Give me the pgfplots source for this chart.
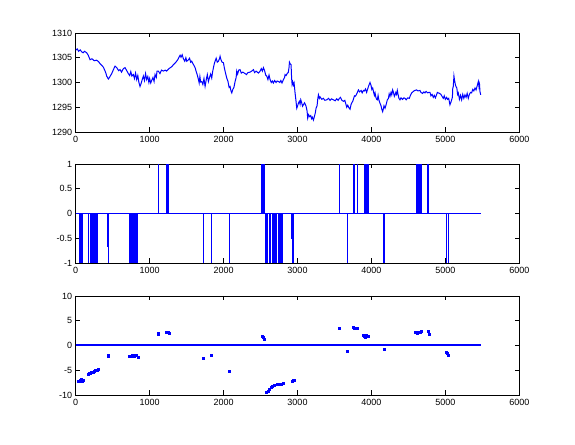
\documentclass[border=0pt]{standalone}
\usepackage{fontspec}
\setmainfont{Liberation Sans}
\usepackage{pgfplots}
\pgfplotsset{compat=1.18}
\definecolor{mblue}{rgb}{0,0,1}
\pgfplotsset{
  mstyle/.style={
    scale only axis, width=443.6pt, height=99pt, anchor=south west,
    xmin=0, xmax=6000, xtick={0,1000,...,6000},
    tick align=inside, major tick length=4.5pt,
    axis line style={line width=0.6pt}, every tick/.style={line width=0.6pt, black},
    /pgf/number format/assume math mode=true,
    /pgf/number format/1000 sep={},
    tick label style={font=\fontsize{9}{10}\selectfont},
    xticklabel style={yshift=-1pt},
    clip=true,
  }
}
\newcommand{\blk}[3]{\addplot[draw=mblue, fill=mblue, line width=0.6pt] coordinates {(#1,0)(#1,#3)(#2,#3)(#2,0)};}
\newcommand{\lin}[2]{\addplot[draw=mblue, line width=1pt] coordinates {(#1,0)(#1,#2)};}
\begin{document}
\begin{tikzpicture}
\path[use as bounding box] (0,0) rectangle (575pt,444pt);
% top
\begin{axis}[mstyle, at={(75.7pt,312pt)}, ymin=1290, ymax=1310, ytick={1290,1295,...,1310}]
\addplot[mblue, line width=1pt] coordinates {
(0,1306.5)(20,1306.8)(40,1306.3)(60,1306.6)(81,1306.2)(100,1306.0)(120,1306.3)(149,1306.0)(170,1305.5)(194,1304.6)
(220,1304.8)(250,1304.4)(284,1304.5)(310,1304.2)(329,1303.8)(350,1303.5)(374,1303.1)(395,1302.4)(410,1301.8)(419,1301.3)
(442,1300.7)(460,1301.1)(487,1301.8)(510,1302.6)(532,1303.3)(555,1303.0)(580,1302.4)(600,1302.6)(620,1302.1)(645,1302.8)
(667,1303.0)(690,1302.4)(712,1301.8)(730,1301.4)(745,1302.2)(760,1301.3)(780,1301.6)(795,1300.8)(810,1301.9)(825,1300.6)
(840,1301.4)(855,1300.0)(870,1299.2)(885,1299.8)(900,1300.6)(915,1301.3)(930,1300.4)(945,1301.8)(960,1300.6)(975,1301.2)
(990,1300.0)(1000,1300.8)(1015,1299.9)(1030,1300.5)(1045,1301.0)(1060,1300.2)(1073,1301.6)(1090,1301.0)(1100,1302.3)(1118,1302.3)
(1140,1301.8)(1160,1302.5)(1186,1302.3)(1210,1302.5)(1230,1302.3)(1254,1302.7)(1280,1303.0)(1300,1303.2)(1321,1303.6)(1350,1304.0)
(1380,1304.6)(1400,1305.2)(1412,1305.5)(1425,1305.1)(1440,1305.6)(1457,1304.8)(1475,1304.3)(1490,1305.0)(1502,1304.3)(1520,1304.5)
(1540,1304.9)(1555,1304.1)(1569,1304.3)(1590,1303.7)(1615,1303.0)(1630,1302.2)(1645,1301.5)(1660,1300.6)(1670,1299.9)(1680,1301.2)
(1690,1300.1)(1705,1300.2)(1720,1299.6)(1735,1300.8)(1750,1299.2)(1765,1300.5)(1780,1301.6)(1795,1300.2)(1810,1301.0)(1825,1301.7)
(1840,1300.9)(1850,1302.0)(1863,1303.0)(1875,1303.8)(1885,1304.3)(1900,1304.9)(1915,1304.1)(1930,1304.3)(1945,1304.8)(1953,1305.3)
(1965,1304.6)(1980,1304.1)(1998,1304.0)(2010,1303.0)(2025,1302.0)(2043,1300.9)(2060,1300.2)(2075,1299.0)(2088,1299.2)(2100,1298.3)
(2111,1297.9)(2125,1298.6)(2140,1299.0)(2156,1300.2)(2170,1301.0)(2178,1302.3)(2190,1301.7)(2205,1302.5)(2223,1302.6)(2240,1301.9)
(2260,1302.1)(2291,1301.8)(2310,1301.6)(2330,1302.0)(2359,1302.1)(2380,1302.3)(2404,1302.6)(2420,1302.0)(2440,1302.3)(2471,1301.9)
(2490,1302.2)(2510,1302.8)(2525,1302.3)(2539,1303.0)(2555,1302.4)(2570,1301.5)(2584,1301.3)(2600,1300.6)(2615,1301.5)(2629,1300.6)
(2645,1300.0)(2660,1300.3)(2674,1299.9)(2690,1300.4)(2710,1300.0)(2725,1300.3)(2742,1300.2)(2760,1300.0)(2775,1300.4)(2790,1299.9)
(2810,1300.6)(2825,1301.0)(2832,1301.6)(2845,1301.4)(2864,1301.9)(2875,1302.0)(2885,1303.0)(2891,1304.1)(2900,1303.8)(2913,1303.6)
(2920,1301.0)(2927,1299.6)(2935,1300.1)(2945,1299.5)(2954,1299.9)(2967,1297.9)(2978,1296.5)(2990,1294.8)(3000,1295.2)(3012,1295.8)
(3025,1296.2)(3035,1295.6)(3044,1296.5)(3055,1296.0)(3068,1295.2)(3080,1295.5)(3095,1295.9)(3105,1295.6)(3116,1295.2)(3130,1294.2)
(3138,1292.8)(3150,1293.5)(3165,1293.1)(3179,1293.3)(3190,1292.7)(3200,1293.0)(3215,1292.4)(3230,1293.2)(3240,1293.8)(3251,1294.8)
(3265,1295.3)(3275,1296.8)(3283,1297.5)(3295,1296.8)(3305,1297.1)(3328,1296.6)(3350,1296.8)(3370,1296.4)(3396,1296.5)(3420,1296.8)
(3440,1296.4)(3460,1296.7)(3486,1296.5)(3510,1296.3)(3530,1296.7)(3550,1296.4)(3567,1296.8)(3580,1297.0)(3600,1296.4)(3621,1296.2)
(3640,1296.4)(3655,1295.6)(3666,1295.0)(3680,1295.4)(3695,1294.9)(3711,1294.6)(3725,1295.6)(3735,1295.9)(3747,1296.2)(3760,1296.8)
(3770,1297.3)(3779,1297.2)(3795,1297.5)(3810,1298.0)(3824,1298.5)(3840,1298.1)(3860,1298.4)(3875,1297.9)(3891,1298.4)(3905,1298.3)
(3920,1298.7)(3935,1298.0)(3945,1298.5)(3960,1299.2)(3970,1299.6)(3981,1300.0)(3995,1299.4)(4005,1298.6)(4017,1298.9)(4030,1298.0)
(4040,1297.4)(4049,1297.9)(4060,1297.0)(4070,1296.6)(4080,1296.5)(4090,1297.4)(4100,1296.5)(4116,1295.8)(4130,1295.3)(4140,1294.6)
(4152,1294.1)(4160,1294.6)(4170,1295.3)(4184,1294.8)(4200,1295.6)(4215,1296.5)(4230,1296.8)(4240,1297.7)(4251,1297.2)(4265,1298.0)
(4275,1297.5)(4287,1298.5)(4300,1297.9)(4310,1297.2)(4319,1297.5)(4330,1298.0)(4340,1297.6)(4350,1298.4)(4360,1297.6)(4372,1296.8)
(4386,1296.5)(4400,1296.9)(4420,1296.6)(4440,1296.9)(4454,1296.8)(4470,1296.5)(4490,1296.9)(4512,1296.8)(4525,1297.3)(4544,1297.9)
(4560,1298.1)(4575,1298.3)(4589,1298.4)(4610,1298.5)(4630,1298.3)(4657,1298.4)(4670,1298.0)(4690,1297.8)(4710,1298.1)(4724,1297.9)
(4740,1298.2)(4760,1297.9)(4775,1298.0)(4792,1298.0)(4805,1297.3)(4820,1297.6)(4837,1297.0)(4850,1297.4)(4865,1296.9)(4880,1297.5)
(4892,1298.0)(4905,1297.9)(4920,1297.8)(4940,1297.6)(4955,1297.2)(4972,1296.8)(4985,1297.3)(5000,1296.6)(5017,1297.0)(5030,1296.6)
(5045,1296.8)(5062,1295.5)(5075,1296.0)(5085,1296.5)(5095,1297.0)(5100,1298.8)(5107,1299.2)(5116,1301.3)(5125,1300.4)(5135,1299.6)
(5143,1299.2)(5155,1298.9)(5165,1297.6)(5175,1297.9)(5190,1296.6)(5205,1297.4)(5220,1296.5)(5235,1297.6)(5250,1296.8)(5265,1297.5)
(5280,1297.0)(5295,1297.8)(5310,1296.8)(5325,1297.6)(5340,1298.0)(5355,1297.9)(5370,1298.6)(5385,1298.3)(5401,1298.9)(5415,1298.5)
(5430,1299.3)(5446,1300.2)(5455,1299.1)(5462,1299.6)(5468,1298.2)(5478,1297.5)
};
\end{axis}
% middle
\begin{axis}[mstyle, at={(75.7pt,181pt)}, ymin=-1, ymax=1, ytick={-1,-0.5,0,0.5,1}]
\blk{45}{95}{-1}\blk{194}{230}{-1}\blk{240}{265}{-1}\blk{272}{298}{-1}
\blk{726}{794}{-1}\blk{812}{834}{-1}\blk{2566}{2598}{-1}\blk{2620}{2638}{-1}
\blk{2656}{2674}{-1}\blk{2692}{2710}{-1}\blk{2746}{2800}{-1}\blk{2913}{2922}{-0.5}
\blk{2925}{2944}{-1}\blk{4162}{4180}{-1}
\lin{176}{-1}\lin{433}{-0.67}\lin{442}{-1}\lin{1727}{-1}\lin{1836}{-1}\lin{2079}{-1}
\lin{3675}{-1}\lin{5014}{-1}\lin{5041}{-1}
\blk{1222}{1258}{1}\blk{2512}{2553}{1}\blk{3752}{3774}{1}\blk{3900}{3959}{1}
\blk{4615}{4681}{1}\blk{4753}{4775}{1}
\lin{1118}{1}\lin{3567}{1}\lin{3810}{1}\lin{4606}{1}
\addplot[mblue, line width=1pt] coordinates {(0,0)(5480,0)};
\end{axis}
% bottom
\begin{axis}[mstyle, at={(75.7pt,49pt)}, ymin=-10, ymax=10, ytick={-10,-5,0,5,10}]
\addplot[mblue, line width=2pt] coordinates {(0,0)(5480,0)};
\addplot[only marks, mark=square*, mark size=1pt, mblue] coordinates {
(40,-7.2)(55,-7.0)(65,-7.3)(75,-6.9)(85,-7.2)(95,-7.1)
(170,-5.8)(185,-5.6)(200,-5.5)(215,-5.4)(230,-5.3)(245,-5.2)(260,-5.0)(275,-5.0)(290,-4.9)(305,-4.7)
(435,-1.9)(445,-2.2)
(730,-2.2)(745,-2.2)(760,-1.9)(775,-2.2)(790,-2.2)(810,-2.0)(825,-2.0)(840,-2.3)
(1115,2.2)(1118,2.4)
(1225,2.7)(1240,2.7)(1255,2.6)(1262,2.5)
(1720,-2.6)(1832,-1.9)(2075,-5.2)
(2520,1.9)(2535,1.6)(2545,1.2)(2550,1.3)
(2580,-9.5)(2600,-9.2)(2620,-8.8)(2640,-8.5)(2660,-8.3)(2690,-8.0)(2720,-7.8)(2740,-7.9)(2760,-7.9)(2780,-7.8)(2800,-7.6)
(2925,-7.2)(2940,-7.0)(2950,-7.1)
(3560,3.4)(3670,-1.1)
(3758,3.6)(3765,3.4)(3805,3.4)
(3895,2.1)(3905,1.9)(3915,1.6)(3925,2.0)(3940,1.8)(3955,1.9)
(4167,-0.7)
(4595,2.7)(4610,2.7)(4625,2.5)(4640,2.6)(4655,2.7)(4670,2.8)
(4762,2.8)(4775,2.3)
(5005,-1.3)(5020,-1.6)(5035,-1.9)(5040,-2.0)
};
\end{axis}
\end{tikzpicture}
\end{document}
